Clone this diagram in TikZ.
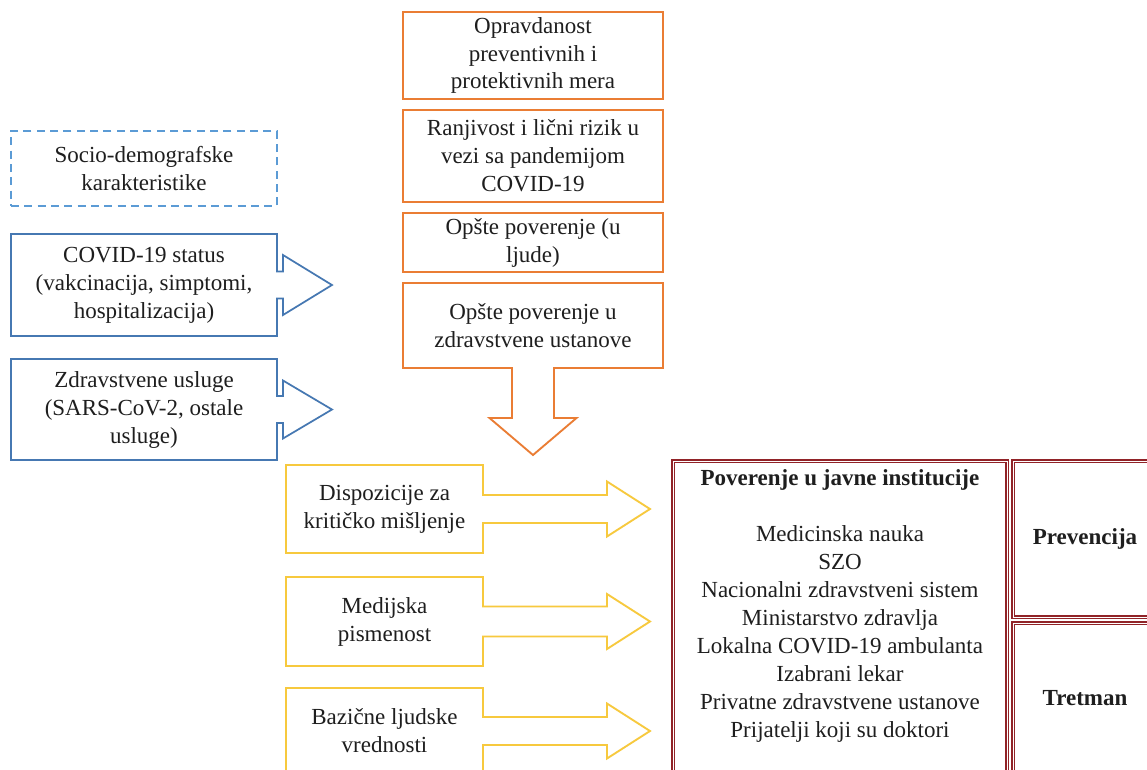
\documentclass[tikz,border=0pt]{standalone}
\usepackage{fontspec}
\setmainfont{Liberation Serif}
\usetikzlibrary{calc}
\definecolor{bluesolid}{RGB}{70,120,178}
\definecolor{bluedash}{RGB}{91,155,213}
\definecolor{orangeln}{RGB}{234,125,52}
\definecolor{yellowln}{RGB}{247,201,62}
\definecolor{redln}{RGB}{145,35,40}
\definecolor{txt}{RGB}{30,30,30}
\newcommand{\rightcallout}[6]{%
  \draw[#2] (#1.north west) -- (#1.north east) -- ($(#1.east)+(0,-#3)$)
    -- ($(#1.east)+(#5,-#3)$) -- ($(#1.east)+(#5,-#4)$) -- ($(#1.east)+(#6,0)$)
    -- ($(#1.east)+(#5,#4)$) -- ($(#1.east)+(#5,#3)$) -- ($(#1.east)+(0,#3)$)
    -- (#1.south east) -- (#1.south west) -- cycle;}
\tikzset{
  lbl/.style={inner sep=0pt, outer sep=0pt, align=center, text=txt,
    font=\fontsize{17.25}{21}\selectfont},
  boxnode/.style={lbl},
  bluebox/.style={draw=bluesolid, line width=1.3pt, line join=miter},
  dashbox/.style={draw=bluedash, line width=1.3pt, dash pattern=on 6pt off 4pt},
  orangebox/.style={draw=orangeln, line width=1.4pt, line join=miter},
  yellowbox/.style={draw=yellowln, line width=1.4pt, line join=miter},
  redbox/.style={draw=redln, line width=0.85pt, double=white, double distance=0.75pt},
}
\begin{document}
\begin{tikzpicture}[x=0.75pt,y=-0.75pt]
\clip (0,0) rectangle (1147,769);
\fill[white] (0,0) rectangle (1147,769);

% Blue column
\node[boxnode, dashbox, minimum width=199.5pt, minimum height=56.25pt] (socio) at (144,168.5)
  {Socio-demografske\\karakteristike};
\node[boxnode, minimum width=199.5pt, minimum height=76.5pt] (covid) at (144,285)
  {COVID-19 status\\(vakcinacija, simptomi,\\hospitalizacija)};
\rightcallout{covid}{bluebox}{13.5}{30}{6}{55}
\node[boxnode, minimum width=199.5pt, minimum height=75.75pt] (zdrav) at (144,409.5)
  {Zdravstvene usluge\\(SARS-CoV-2, ostale\\usluge)};
\rightcallout{zdrav}{bluebox}{13.5}{29}{6}{55}

% Orange column
\node[boxnode, orangebox, minimum width=195pt, minimum height=65.25pt] (o1) at (533,55.5)
  {\raisebox{-2pt}{\begin{tabular}{@{}c@{}}Opravdanost\\[-0.5pt]preventivnih i\\[-0.5pt]protektivnih mera\end{tabular}}};
\node[boxnode, orangebox, minimum width=195pt, minimum height=69pt] (o2) at (533,156)
  {Ranjivost i lični rizik u\\vezi sa pandemijom\\COVID-19};
\node[boxnode, orangebox, minimum width=195pt, minimum height=44.25pt] (o3) at (533,242.5)
  {Opšte poverenje (u\\ljude)};
\node[boxnode, minimum width=195pt, minimum height=63.75pt] (o4) at (533,325.5)
  {Opšte poverenje u\\zdravstvene ustanove};
\draw[orangebox] (o4.north west) -- (o4.north east) -- (o4.south east)
  -- ($(o4.south)+(21,0)$) -- ($(o4.south)+(21,50)$) -- ($(o4.south)+(43.5,50)$)
  -- ($(o4.south)+(0,87)$) -- ($(o4.south)+(-43.5,50)$) -- ($(o4.south)+(-21,50)$)
  -- ($(o4.south)+(-21,0)$) -- (o4.south west) -- cycle;

% Yellow column
\node[boxnode, minimum width=147.75pt, minimum height=66pt] (y1) at (384.5,509)
  {Dispozicije za\\kritičko mišljenje};
\rightcallout{y1}{yellowbox}{14}{27.5}{124}{167}
\node[boxnode, minimum width=147.75pt, minimum height=66.75pt] (y2) at (384.5,621.5)
  {Medijska\\pismenost};
\rightcallout{y2}{yellowbox}{15}{27.5}{124}{167}
\node[boxnode, minimum width=147.75pt, minimum height=64.5pt] (y3) at (384.5,731)
  {Bazične ljudske\\vrednosti};
\rightcallout{y3}{yellowbox}{14}{27.5}{124}{167}

% Red boxes
\node[redbox, minimum width=250.5pt, minimum height=234pt, inner sep=0pt, outer sep=0pt] (inst) at (840,617) {};
\node[lbl] (insttext) at (840,606)
  {\textbf{Poverenje u javne institucije}\\[21pt]Medicinska nauka\\SZO\\Nacionalni zdravstveni sistem\\Ministarstvo zdravlja\\Lokalna COVID-19 ambulanta\\Izabrani lekar\\Privatne zdravstvene ustanove\\Prijatelji koji su doktori};
\node[redbox, minimum width=108pt, minimum height=117pt, inner sep=0pt, outer sep=0pt] (prev) at (1085,539) {};
\node[lbl, font=\fontsize{17.25}{21}\selectfont\bfseries] (prevtext) at (prev.center) {Prevencija};
\node[redbox, minimum width=108pt, minimum height=112.5pt, inner sep=0pt, outer sep=0pt] (tret) at (1085,698) {};
\node[lbl, font=\fontsize{17.25}{21}\selectfont\bfseries] (trettext) at (tret.center) {Tretman};
\end{tikzpicture}
\end{document}
